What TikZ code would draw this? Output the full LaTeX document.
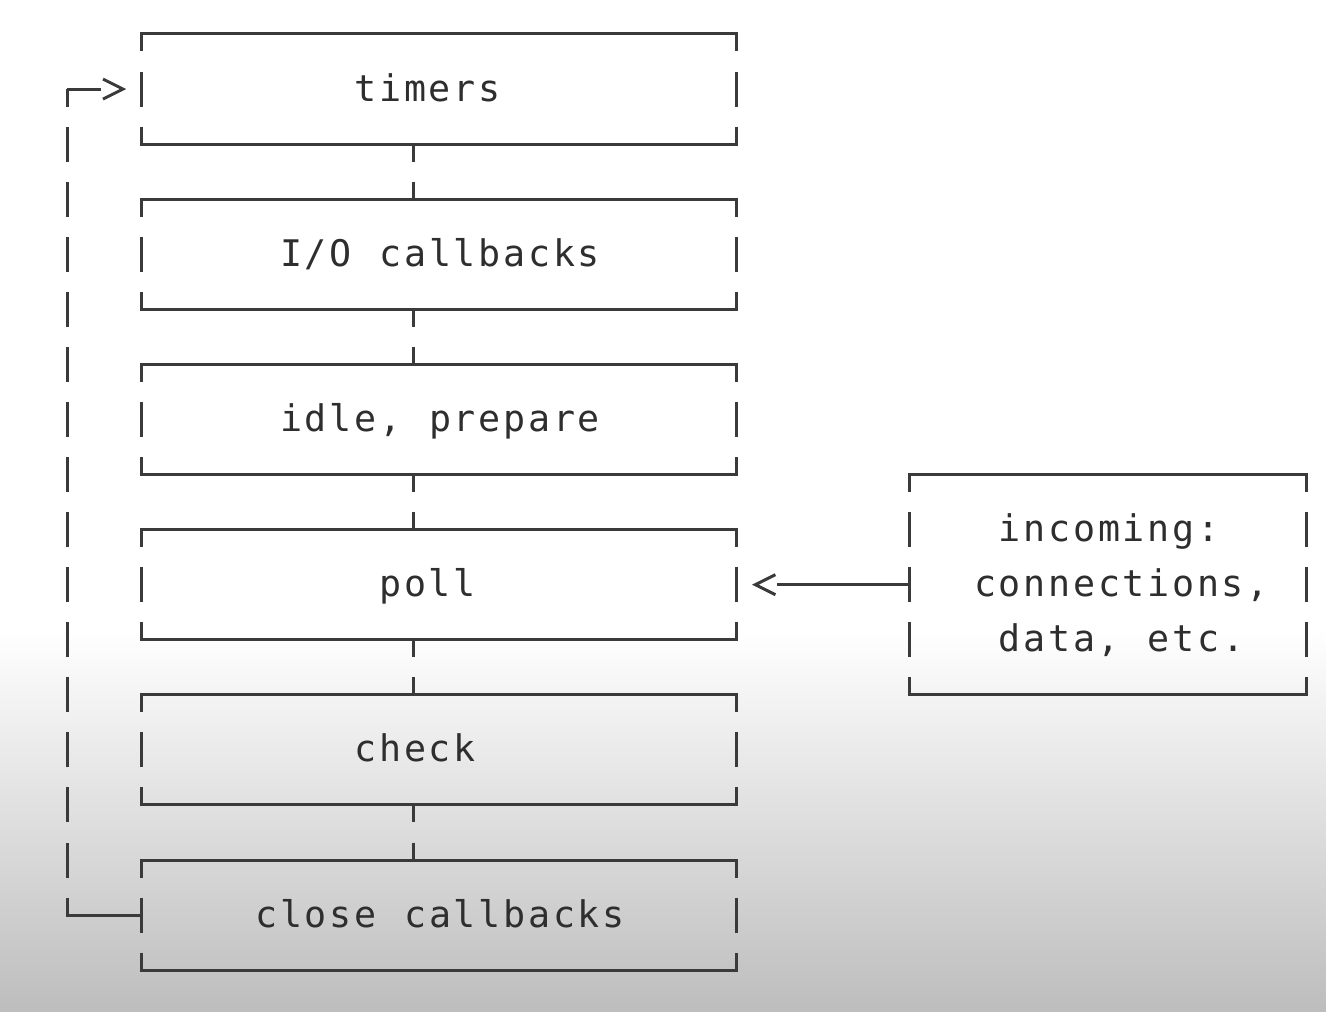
\documentclass[tikz,border=0pt]{standalone}
\usepackage{fontspec}
\newfontfamily\asciifont[LetterSpace=7.38,WordSpace={1.1226,0,0}]{DejaVu Sans Mono}
\usetikzlibrary{positioning,arrows.meta}
\definecolor{lineGray}{HTML}{3A3A3A}
\definecolor{textGray}{HTML}{2E2E2E}
\definecolor{bgGray}{HTML}{BDBDBD}
\newcommand{\cw}{18.585pt}% one character cell
\newcommand{\rh}{41.3pt}% one text row

\begin{document}
\begin{tikzpicture}[
x=0.75pt, y=-0.75pt,
node distance=\rh,
Phase/.style={minimum width=24*\cw, minimum height=2*\rh, inner sep=0pt, outer sep=0pt},
Incoming/.style={minimum width=16*\cw, minimum height=4*\rh, inner sep=0pt, outer sep=0pt},
BoxText/.style={font=\asciifont\fontsize{27.5pt}{41.3pt}\selectfont, text=textGray,
  inner sep=0pt, text height=24pt, text depth=6pt, xshift=1pt},
Rule/.style={draw=lineGray, line width=2.25pt},
Side/.style={Rule, dash pattern=on 26.25pt off 15.05pt, dash phase=13.125pt},
Tip/.style={-{. Straight Barb[length=15pt,width=15pt]}}
]
\useasboundingbox (0,0) rectangle (1326,1012);
\fill[white] (0,0) rectangle (1326,1012);
\shade[top color=white, bottom color=bgGray] (0,630) rectangle (1326,1012);

% the phases of the loop
\node[Phase, label={[BoxText,xshift=-0.5*\cw]center:timers}] (timers) at (438.7,89.07) {};
\node[Phase, below=of timers, label={[BoxText]center:I/O callbacks}] (io) {};
\node[Phase, below=of io, label={[BoxText]center:idle, prepare}] (idle) {};
\node[Phase, below=of idle, label={[BoxText,xshift=-0.5*\cw]center:poll}] (poll) {};
\node[Phase, below=of poll, label={[BoxText,xshift=-\cw]center:check}] (check) {};
\node[Phase, below=of check, label={[BoxText]center:close callbacks}] (close) {};

\node[Incoming, right=130.1pt of poll,
  label={[BoxText,yshift=\rh]center:incoming:},
  label={[BoxText,xshift=0.5*\cw]center:connections,},
  label={[BoxText,xshift=0.5*\cw,yshift=-\rh]center:data, etc.}] (incoming) {};

% ascii-like frames
\foreach \n in {timers,io,idle,poll,check,close,incoming}{
  \draw[Rule, line cap=rect] (\n.north west) -- (\n.north east);
  \draw[Rule, line cap=rect] (\n.south west) -- (\n.south east);
  \draw[Side] (\n.north west) -- (\n.south west);
  \draw[Side] (\n.north east) -- (\n.south east);
}

\foreach \a/\b in {timers/io, io/idle, idle/poll, poll/check, check/close}
  \draw[Side] ([xshift=-\cw]\a.south) -- ([xshift=-\cw]\b.north);

\draw[Rule, Tip, shorten >=12pt] (incoming.west) -- (poll.east);

% back to the start
\coordinate (loopBot) at ([xshift=-55.75pt]close.west);
\coordinate (loopTop) at ([xshift=-55.75pt]timers.west);
\draw[Rule, line cap=rect] (close.west) -- (loopBot);
\draw[Side] (loopBot) -- (loopTop);
\draw[Rule, Tip, shorten >=11.25pt] (loopTop) -- (timers.west);
\end{tikzpicture}
\end{document}
